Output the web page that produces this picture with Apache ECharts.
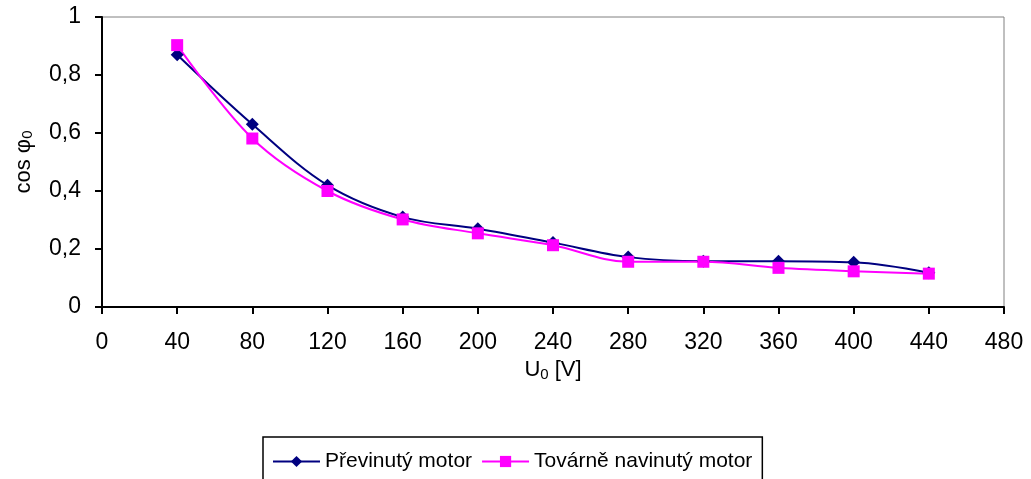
<!DOCTYPE html>
<html>
<head>
<meta charset="utf-8">
<script src="https://cdn.jsdelivr.net/npm/echarts@6/dist/echarts.min.js"></script>
<style>
  html, body { margin: 0; padding: 0; background: #fff; }
  #chart { width: 1031px; height: 479px; }
</style>
</head>
<body>
<div id="chart"></div>
<script>
// Voltage U0 [V]
const voltages = [40, 80, 120, 160, 200, 240, 280, 320, 360, 400, 440];
// Power factor cos φ0 at no load
const previnutyMotor = [0.87, 0.63, 0.42, 0.31, 0.27, 0.222, 0.172, 0.158, 0.158, 0.154, 0.118];
const tovarneMotor   = [0.903, 0.581, 0.40, 0.302, 0.254, 0.213, 0.156, 0.156, 0.135, 0.123, 0.115];
const seriesNames = ['Převinutý motor', 'Továrně navinutý motor'];

const FONT = '"Liberation Sans", Arial, sans-serif';
const pairs = (xs, ys) => xs.map((x, i) => [x, ys[i]]);

const chart = echarts.init(document.getElementById('chart'));
chart.setOption({
  animation: false,
  backgroundColor: '#ffffff',
  grid: {
    left: 102, top: 17, width: 902, height: 290,
    show: true, borderColor: '#808080', borderWidth: 1, backgroundColor: 'transparent'
  },
  xAxis: {
    type: 'value', min: 0, max: 480, interval: 40,
    name: 'U{sub|0} [V]',
    nameLocation: 'middle', nameGap: 44,
    nameTextStyle: {
      fontFamily: FONT, fontSize: 22, color: '#000',
      rich: { sub: { fontFamily: FONT, fontSize: 15, color: '#000', verticalAlign: 'bottom', padding: [9, 0, 0, 0] } }
    },
    axisLine: { show: true, onZero: false, lineStyle: { color: '#000', width: 2 } },
    axisTick: { show: true, inside: false, length: 7, lineStyle: { color: '#000', width: 2 } },
    axisLabel: { fontFamily: FONT, fontSize: 23, color: '#000', margin: 24 },
    splitLine: { show: false }
  },
  yAxis: {
    type: 'value', min: 0, max: 1, interval: 0.2,
    name: 'cos φ{sub|0}',
    nameLocation: 'middle', nameGap: 67, nameRotate: 90,
    nameTextStyle: {
      fontFamily: FONT, fontSize: 22, color: '#000',
      rich: { sub: { fontFamily: FONT, fontSize: 15, color: '#000', padding: [8, 0, 0, 0] } }
    },
    axisLine: { show: true, lineStyle: { color: '#000', width: 2 } },
    axisTick: { show: true, inside: false, length: 7, lineStyle: { color: '#000', width: 2 } },
    axisLabel: {
      fontFamily: FONT, fontSize: 23, color: '#000', margin: 21,
      formatter: v => String(Math.round(v * 10) / 10).replace('.', ',')
    },
    splitLine: { show: false }
  },
  legend: {
    left: 263, top: 437,
    padding: [14, 10, 20, 9],
    borderColor: '#000', borderWidth: 1.5,
    itemWidth: 47, itemHeight: 14, itemGap: 9,
    textStyle: { fontFamily: FONT, fontSize: 21, color: '#000' },
    data: seriesNames
  },
  series: [
    {
      name: seriesNames[0], type: 'line',
      data: pairs(voltages, previnutyMotor),
      smooth: 0.35,
      symbol: 'diamond', symbolSize: 13,
      lineStyle: { color: '#000080', width: 2 },
      itemStyle: { color: '#000080' }
    },
    {
      name: seriesNames[1], type: 'line',
      data: pairs(voltages, tovarneMotor),
      smooth: 0.35,
      symbol: 'rect', symbolSize: 12,
      lineStyle: { color: '#ff00ff', width: 2 },
      itemStyle: { color: '#ff00ff' }
    }
  ]
});
</script>
</body>
</html>
